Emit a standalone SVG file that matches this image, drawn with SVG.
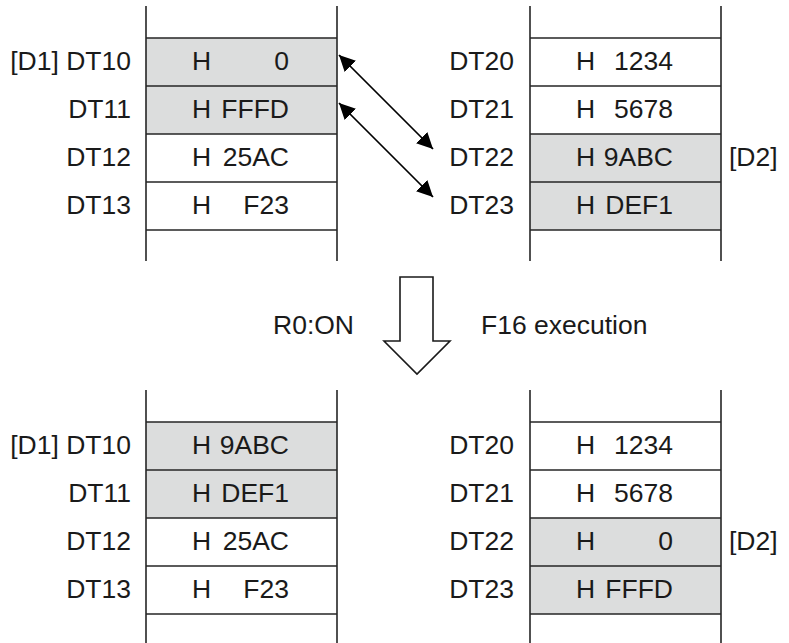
<svg xmlns="http://www.w3.org/2000/svg" width="789" height="643" viewBox="0 0 789 643">
<defs>
<style>
text{font-family:"Liberation Sans",Arial,sans-serif;font-size:26.5px;fill:#1a1a1a}
.lbl{text-anchor:end}
.ln{stroke:#262626;stroke-width:1.6;fill:none}
.g{fill:#dcdddd}
.arr{stroke:#000;stroke-width:1.7;fill:none}
</style>
<marker id="ah" markerUnits="userSpaceOnUse" markerWidth="17" markerHeight="17" refX="16" refY="8" orient="auto-start-reverse" viewBox="0 0 17 17">
<path d="M0,0 L16,8 L0,16 z" fill="#000"/>
</marker>
</defs>
<rect width="789" height="643" fill="#fff"/>

<g id="table-top-left">
<rect class="g" x="146" y="38" width="191" height="96"/>
<path class="ln" d="M146,6 V261 M337,6 V261 M146,38 H337 M146,86 H337 M146,134 H337 M146,182 H337 M146,230 H337"/>
<text class="lbl" x="131" y="70">[D1] DT10</text>
<text class="lbl" x="131" y="118">DT11</text>
<text class="lbl" x="131" y="166">DT12</text>
<text class="lbl" x="131" y="214">DT13</text>
<text y="70"><tspan x="192">H</tspan><tspan x="289" text-anchor="end">0</tspan></text>
<text y="118"><tspan x="192">H</tspan><tspan x="289" text-anchor="end">FFFD</tspan></text>
<text y="166"><tspan x="192">H</tspan><tspan x="289" text-anchor="end">25AC</tspan></text>
<text y="214"><tspan x="192">H</tspan><tspan x="289" text-anchor="end">F23</tspan></text>
</g>

<g id="table-top-right">
<rect class="g" x="530" y="134" width="191" height="96"/>
<path class="ln" d="M530,6 V261 M721,6 V261 M530,38 H721 M530,86 H721 M530,134 H721 M530,182 H721 M530,230 H721"/>
<text class="lbl" x="514" y="70">DT20</text>
<text class="lbl" x="514" y="118">DT21</text>
<text class="lbl" x="514" y="166">DT22</text>
<text class="lbl" x="514" y="214">DT23</text>
<text x="729" y="166">[D2]</text>
<text y="70"><tspan x="576">H</tspan><tspan x="673" text-anchor="end">1234</tspan></text>
<text y="118"><tspan x="576">H</tspan><tspan x="673" text-anchor="end">5678</tspan></text>
<text y="166"><tspan x="576">H</tspan><tspan x="673" text-anchor="end">9ABC</tspan></text>
<text y="214"><tspan x="576">H</tspan><tspan x="673" text-anchor="end">DEF1</tspan></text>
</g>

<g id="connectors">
<line class="arr" x1="339" y1="55" x2="433" y2="149" marker-start="url(#ah)" marker-end="url(#ah)"/>
<line class="arr" x1="339" y1="103" x2="433" y2="197" marker-start="url(#ah)" marker-end="url(#ah)"/>
</g>

<g id="transition">
<polygon points="400,277 433,277 433,341 450,341 417,374 384,341 400,341" fill="#fff" stroke="#1a1a1a" stroke-width="1.6"/>
<text class="lbl" x="354" y="334">R0:ON</text>
<text x="481" y="334">F16 execution</text>
</g>

<g id="table-bottom-left">
<rect class="g" x="146" y="422" width="191" height="96"/>
<path class="ln" d="M146,390 V643 M337,390 V643 M146,422 H337 M146,470 H337 M146,518 H337 M146,566 H337 M146,614 H337"/>
<text class="lbl" x="131" y="454">[D1] DT10</text>
<text class="lbl" x="131" y="502">DT11</text>
<text class="lbl" x="131" y="550">DT12</text>
<text class="lbl" x="131" y="598">DT13</text>
<text y="454"><tspan x="192">H</tspan><tspan x="289" text-anchor="end">9ABC</tspan></text>
<text y="502"><tspan x="192">H</tspan><tspan x="289" text-anchor="end">DEF1</tspan></text>
<text y="550"><tspan x="192">H</tspan><tspan x="289" text-anchor="end">25AC</tspan></text>
<text y="598"><tspan x="192">H</tspan><tspan x="289" text-anchor="end">F23</tspan></text>
</g>

<g id="table-bottom-right">
<rect class="g" x="530" y="518" width="191" height="96"/>
<path class="ln" d="M530,390 V643 M721,390 V643 M530,422 H721 M530,470 H721 M530,518 H721 M530,566 H721 M530,614 H721"/>
<text class="lbl" x="514" y="454">DT20</text>
<text class="lbl" x="514" y="502">DT21</text>
<text class="lbl" x="514" y="550">DT22</text>
<text class="lbl" x="514" y="598">DT23</text>
<text x="729" y="550">[D2]</text>
<text y="454"><tspan x="576">H</tspan><tspan x="673" text-anchor="end">1234</tspan></text>
<text y="502"><tspan x="576">H</tspan><tspan x="673" text-anchor="end">5678</tspan></text>
<text y="550"><tspan x="576">H</tspan><tspan x="673" text-anchor="end">0</tspan></text>
<text y="598"><tspan x="576">H</tspan><tspan x="673" text-anchor="end">FFFD</tspan></text>
</g>
</svg>
